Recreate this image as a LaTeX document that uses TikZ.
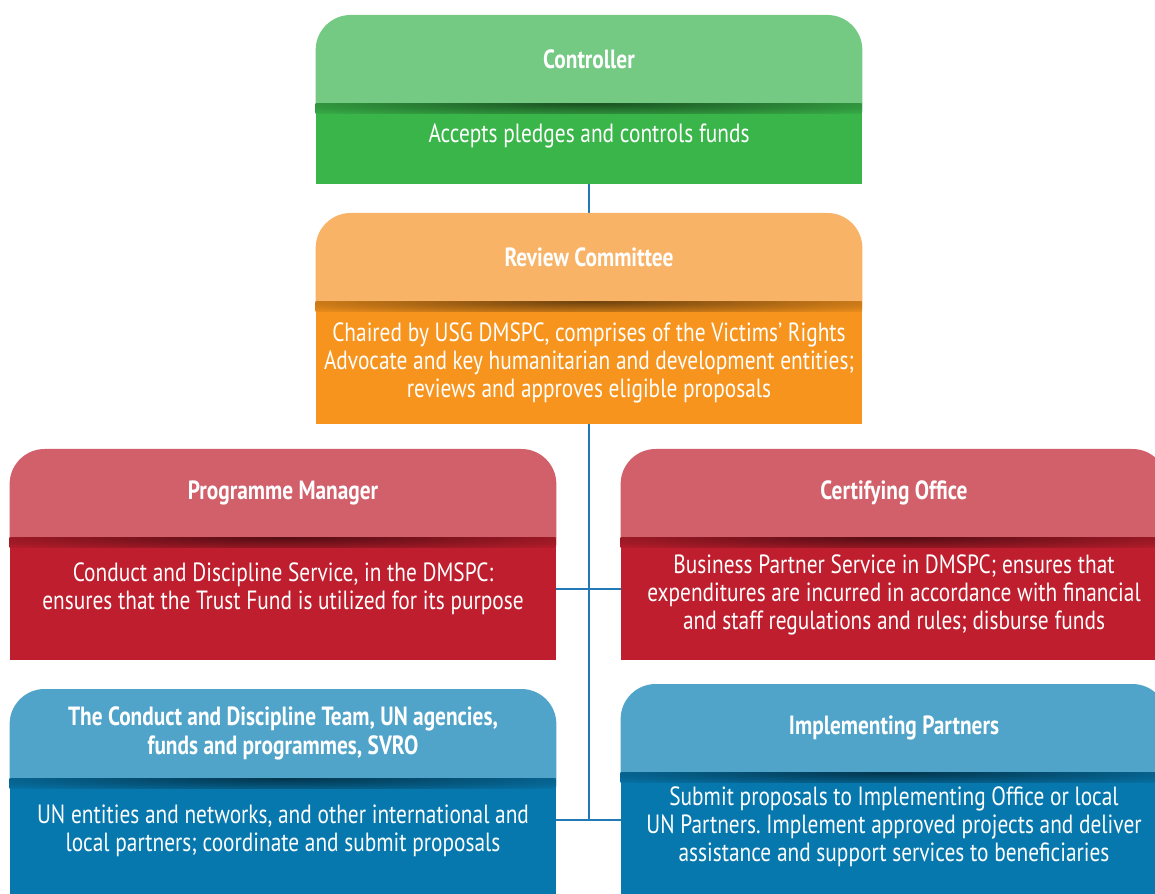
\documentclass[tikz,border=0pt]{standalone}
\usepackage{fontspec}
\setmainfont{PT Sans}[FakeStretch=0.81]
\usetikzlibrary{backgrounds}
\frenchspacing

\definecolor{ctrlhead}{HTML}{74C983}
\definecolor{ctrlbody}{HTML}{3AB54A}
\definecolor{revhead}{HTML}{F8B366}
\definecolor{revbody}{HTML}{F7941D}
\definecolor{redhead}{HTML}{D1606B}
\definecolor{redbody}{HTML}{BE1E2D}
\definecolor{bluehead}{HTML}{51A4C9}
\definecolor{bluebody}{HTML}{0778AE}
\definecolor{linkblue}{HTML}{2379B5}

\tikzset{
  headtxt/.style={text=white, font=\fontsize{15}{16.5}\selectfont\bfseries,
    minimum width=10.92cm, minimum height=1.76cm,
    align=center, inner sep=0pt},
  bodytxt/.style={text=white, font=\fontsize{15}{16}\selectfont,
    minimum width=10.92cm, inner xsep=0pt, align=center},
  link/.style={draw=linkblue, line width=1.4pt},
}

\begin{document}
\begin{tikzpicture}
\useasboundingbox (0,0) rectangle (23.1,-17.88);

% Controller
\node[headtxt, anchor=north] (ctrlhd) at (11.78,-0.30) {Controller};
\node[bodytxt] (ctrl) at (11.78,-2.72) {Accepts pledges and controls funds};

% Review Committee
\node[headtxt, anchor=north] (revhd) at (11.78,-4.26) {Review Committee};
\node[bodytxt] (rev) at (11.78,-7.26) {Chaired by USG DMSPC, comprises of the Victims’ Rights\\
  Advocate and key humanitarian and development entities;\\
  reviews and approves eligible proposals};

% Programme Manager
\node[headtxt, anchor=north] (pmhd) at (5.66,-8.98) {Programme Manager};
\node[bodytxt] (pm) at (5.66,-11.78) {Conduct and Discipline Service, in the DMSPC:\\
  ensures that the Trust Fund is utilized for its purpose};

% Certifying Office
\node[headtxt, anchor=north] (cohd) at (17.88,-8.98) {Certifying Office};
\node[bodytxt] (co) at (17.88,-11.90) {Business Partner Service in DMSPC; ensures that\\
  expenditures are incurred in accordance with financial\\
  and staff regulations and rules; disburse funds};

% Conduct and Discipline Team
\node[headtxt, anchor=north, minimum height=1.78cm] (cthd) at (5.66,-13.78) {The Conduct and Discipline Team, UN agencies,\\
  funds and programmes, SVRO};
\node[bodytxt] (ct) at (5.66,-16.62) {UN entities and networks, and other international and\\
  local partners; coordinate and submit proposals};

% Implementing Partners
\node[headtxt, anchor=north] (iphd) at (17.88,-13.68) {Implementing Partners};
\node[bodytxt] (ip) at (17.88,-16.54) {Submit proposals to Implementing Office or local\\
  UN Partners. Implement approved projects and deliver\\
  assistance and support services to beneficiaries};

\begin{scope}[on background layer]
% connectors, behind the boxes
\coordinate (trunk) at (11.78,-16.40);
\draw[link] (ctrl) -- (rev);
\draw[link] (rev) -- (trunk);
\draw[link] (pm) -- (pm -| co);
\draw[link] (trunk -| ct) -- (trunk -| ip);

% boxes: rounded header, body, soft shadow under the header
\foreach \hd/\hc/\bc/\bh in {ctrlhd/ctrlhead/ctrlbody/1.60, revhd/revhead/revbody/2.44,
    pmhd/redhead/redbody/2.44, cohd/redhead/redbody/2.44,
    cthd/bluehead/bluebody/2.44, iphd/bluehead/bluebody/2.44} {
  \fill[\hc, rounded corners=0.7cm] (\hd.north west) rectangle ([yshift=-0.8cm]\hd.south east);
  \fill[\bc] (\hd.south west) rectangle ++(10.92,-\bh);
  \begin{scope}
    \clip (\hd.south west) rectangle ++(10.92,-0.2);
    \shade[inner color=black!55!\bc, outer color=\bc] (\hd.south) ellipse [x radius=8cm, y radius=0.32cm];
  \end{scope}
}
\end{scope}
\end{tikzpicture}
\end{document}
